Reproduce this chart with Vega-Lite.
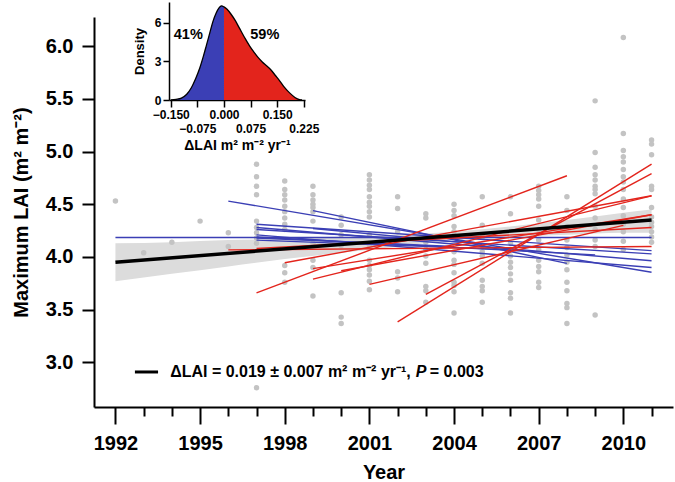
{
  "$schema": "https://vega.github.io/schema/vega-lite/v6.json",
  "width": 579,
  "height": 390,
  "autosize": {"type": "none"},
  "padding": {"left": 94, "top": 17, "right": 2, "bottom": 75},
  "background": "white",
  "config": {
    "view": {"stroke": null},
    "font": "Liberation Sans",
    "axis": {"grid": false, "domainColor": "black", "tickColor": "black", "labelColor": "black", "titleColor": "black", "labelFont": "Liberation Sans", "titleFont": "Liberation Sans", "labelFontWeight": "bold", "titleFontWeight": "bold", "labelFlush": false, "labelOverlap": false, "labelBound": false}
  },
  "datasets": {
    "pts": [
      {"year": 1992, "lai": 4.53},
      {"year": 1993, "lai": 4.04},
      {"year": 1994, "lai": 4.14},
      {"year": 1995, "lai": 4.34},
      {"year": 1996, "lai": 4.23}, {"year": 1996, "lai": 4.10},
      {"year": 1997, "lai": 4.88}, {"year": 1997, "lai": 4.76}, {"year": 1997, "lai": 4.67}, {"year": 1997, "lai": 4.59}, {"year": 1997, "lai": 4.34}, {"year": 1997, "lai": 4.28}, {"year": 1997, "lai": 4.23}, {"year": 1997, "lai": 4.18}, {"year": 1997, "lai": 4.13}, {"year": 1997, "lai": 2.76},
      {"year": 1998, "lai": 4.72}, {"year": 1998, "lai": 4.64}, {"year": 1998, "lai": 4.59}, {"year": 1998, "lai": 4.54}, {"year": 1998, "lai": 4.48}, {"year": 1998, "lai": 4.43}, {"year": 1998, "lai": 4.37}, {"year": 1998, "lai": 4.31}, {"year": 1998, "lai": 4.26}, {"year": 1998, "lai": 3.92}, {"year": 1998, "lai": 3.85}, {"year": 1998, "lai": 3.76},
      {"year": 1999, "lai": 4.67}, {"year": 1999, "lai": 4.59}, {"year": 1999, "lai": 4.54}, {"year": 1999, "lai": 4.50}, {"year": 1999, "lai": 4.47}, {"year": 1999, "lai": 4.43}, {"year": 1999, "lai": 4.34}, {"year": 1999, "lai": 4.13}, {"year": 1999, "lai": 3.97}, {"year": 1999, "lai": 3.90}, {"year": 1999, "lai": 3.63},
      {"year": 2000, "lai": 4.38}, {"year": 2000, "lai": 4.30}, {"year": 2000, "lai": 4.21}, {"year": 2000, "lai": 4.11}, {"year": 2000, "lai": 3.66}, {"year": 2000, "lai": 3.43}, {"year": 2000, "lai": 3.37},
      {"year": 2001, "lai": 4.78}, {"year": 2001, "lai": 4.73}, {"year": 2001, "lai": 4.68}, {"year": 2001, "lai": 4.64}, {"year": 2001, "lai": 4.57}, {"year": 2001, "lai": 4.52}, {"year": 2001, "lai": 4.48}, {"year": 2001, "lai": 4.43}, {"year": 2001, "lai": 4.38}, {"year": 2001, "lai": 4.21}, {"year": 2001, "lai": 4.11}, {"year": 2001, "lai": 3.97}, {"year": 2001, "lai": 3.92}, {"year": 2001, "lai": 3.88}, {"year": 2001, "lai": 3.83}, {"year": 2001, "lai": 3.77}, {"year": 2001, "lai": 3.69},
      {"year": 2002, "lai": 4.57}, {"year": 2002, "lai": 4.46}, {"year": 2002, "lai": 4.24}, {"year": 2002, "lai": 4.16}, {"year": 2002, "lai": 3.86}, {"year": 2002, "lai": 3.80}, {"year": 2002, "lai": 3.67},
      {"year": 2003, "lai": 4.41}, {"year": 2003, "lai": 4.37}, {"year": 2003, "lai": 4.14}, {"year": 2003, "lai": 4.07}, {"year": 2003, "lai": 4.01}, {"year": 2003, "lai": 3.94}, {"year": 2003, "lai": 3.72}, {"year": 2003, "lai": 3.68}, {"year": 2003, "lai": 3.57},
      {"year": 2004, "lai": 4.50}, {"year": 2004, "lai": 4.44}, {"year": 2004, "lai": 4.39}, {"year": 2004, "lai": 4.29}, {"year": 2004, "lai": 4.24}, {"year": 2004, "lai": 4.05}, {"year": 2004, "lai": 3.97}, {"year": 2004, "lai": 3.93}, {"year": 2004, "lai": 3.85}, {"year": 2004, "lai": 3.76}, {"year": 2004, "lai": 3.73}, {"year": 2004, "lai": 3.67}, {"year": 2004, "lai": 3.47},
      {"year": 2005, "lai": 4.57}, {"year": 2005, "lai": 4.30}, {"year": 2005, "lai": 4.19}, {"year": 2005, "lai": 4.11}, {"year": 2005, "lai": 4.05}, {"year": 2005, "lai": 4.01}, {"year": 2005, "lai": 3.94}, {"year": 2005, "lai": 3.78}, {"year": 2005, "lai": 3.72}, {"year": 2005, "lai": 3.68}, {"year": 2005, "lai": 3.57},
      {"year": 2006, "lai": 4.57}, {"year": 2006, "lai": 4.41}, {"year": 2006, "lai": 4.13}, {"year": 2006, "lai": 4.07}, {"year": 2006, "lai": 4.01}, {"year": 2006, "lai": 3.95}, {"year": 2006, "lai": 3.90}, {"year": 2006, "lai": 3.84}, {"year": 2006, "lai": 3.78}, {"year": 2006, "lai": 3.66}, {"year": 2006, "lai": 3.61}, {"year": 2006, "lai": 3.47},
      {"year": 2007, "lai": 4.67}, {"year": 2007, "lai": 4.63}, {"year": 2007, "lai": 4.59}, {"year": 2007, "lai": 4.55}, {"year": 2007, "lai": 4.48}, {"year": 2007, "lai": 4.35}, {"year": 2007, "lai": 4.26}, {"year": 2007, "lai": 4.16}, {"year": 2007, "lai": 4.07}, {"year": 2007, "lai": 3.97}, {"year": 2007, "lai": 3.91}, {"year": 2007, "lai": 3.86}, {"year": 2007, "lai": 3.76}, {"year": 2007, "lai": 3.71},
      {"year": 2008, "lai": 4.57}, {"year": 2008, "lai": 4.44}, {"year": 2008, "lai": 4.29}, {"year": 2008, "lai": 4.16}, {"year": 2008, "lai": 4.09}, {"year": 2008, "lai": 4.02}, {"year": 2008, "lai": 3.95}, {"year": 2008, "lai": 3.88}, {"year": 2008, "lai": 3.76}, {"year": 2008, "lai": 3.68}, {"year": 2008, "lai": 3.56}, {"year": 2008, "lai": 3.52}, {"year": 2008, "lai": 3.37},
      {"year": 2009, "lai": 5.48}, {"year": 2009, "lai": 4.99}, {"year": 2009, "lai": 4.85}, {"year": 2009, "lai": 4.78}, {"year": 2009, "lai": 4.73}, {"year": 2009, "lai": 4.67}, {"year": 2009, "lai": 4.64}, {"year": 2009, "lai": 4.60}, {"year": 2009, "lai": 4.48}, {"year": 2009, "lai": 4.37}, {"year": 2009, "lai": 4.26}, {"year": 2009, "lai": 4.16}, {"year": 2009, "lai": 4.10}, {"year": 2009, "lai": 3.45},
      {"year": 2010, "lai": 6.08}, {"year": 2010, "lai": 5.17}, {"year": 2010, "lai": 5.01}, {"year": 2010, "lai": 4.95}, {"year": 2010, "lai": 4.90}, {"year": 2010, "lai": 4.83}, {"year": 2010, "lai": 4.76}, {"year": 2010, "lai": 4.71}, {"year": 2010, "lai": 4.64}, {"year": 2010, "lai": 4.55}, {"year": 2010, "lai": 4.47}, {"year": 2010, "lai": 4.39}, {"year": 2010, "lai": 4.31}, {"year": 2010, "lai": 4.24}, {"year": 2010, "lai": 4.15}, {"year": 2010, "lai": 4.07},
      {"year": 2011, "lai": 5.11}, {"year": 2011, "lai": 5.07}, {"year": 2011, "lai": 4.97}, {"year": 2011, "lai": 4.67}, {"year": 2011, "lai": 4.64}, {"year": 2011, "lai": 4.47}, {"year": 2011, "lai": 4.38}, {"year": 2011, "lai": 4.33}, {"year": 2011, "lai": 4.29}, {"year": 2011, "lai": 4.24}, {"year": 2011, "lai": 4.19}, {"year": 2011, "lai": 4.14}
    ],
    "sites": [
      {"x0": 1992, "y0": 4.185, "x1": 2011, "y1": 4.185, "trend": "neg"},
      {"x0": 1996, "y0": 4.53, "x1": 2011, "y1": 3.855, "trend": "neg"},
      {"x0": 1997, "y0": 4.31, "x1": 2011, "y1": 4.06, "trend": "neg"},
      {"x0": 1997, "y0": 4.28, "x1": 2011, "y1": 3.965, "trend": "neg"},
      {"x0": 1997, "y0": 4.26, "x1": 2011, "y1": 4.03, "trend": "neg"},
      {"x0": 1997, "y0": 4.21, "x1": 2011, "y1": 3.90, "trend": "neg"},
      {"x0": 1997, "y0": 4.19, "x1": 2009, "y1": 4.02, "trend": "neg"},
      {"x0": 1997, "y0": 4.18, "x1": 2004, "y1": 4.10, "trend": "neg"},
      {"x0": 1997, "y0": 4.16, "x1": 2006, "y1": 4.07, "trend": "neg"},
      {"x0": 1999, "y0": 4.44, "x1": 2008, "y1": 3.94, "trend": "neg"},
      {"x0": 1999, "y0": 4.27, "x1": 2005, "y1": 4.12, "trend": "neg"},
      {"x0": 1996, "y0": 4.067, "x1": 2011, "y1": 4.10, "trend": "pos"},
      {"x0": 1997, "y0": 3.66, "x1": 2008, "y1": 4.77, "trend": "pos"},
      {"x0": 1997, "y0": 4.08, "x1": 2011, "y1": 4.28, "trend": "pos"},
      {"x0": 1998, "y0": 3.946, "x1": 2011, "y1": 4.58, "trend": "pos"},
      {"x0": 1999, "y0": 3.89, "x1": 2011, "y1": 4.40, "trend": "pos"},
      {"x0": 1999, "y0": 3.79, "x1": 2011, "y1": 4.58, "trend": "pos"},
      {"x0": 2000, "y0": 3.87, "x1": 2011, "y1": 4.40, "trend": "pos"},
      {"x0": 2001, "y0": 3.74, "x1": 2010, "y1": 4.30, "trend": "pos"},
      {"x0": 2002, "y0": 3.385, "x1": 2011, "y1": 4.88, "trend": "pos"},
      {"x0": 2003, "y0": 3.646, "x1": 2011, "y1": 4.79, "trend": "pos"}
    ],
    "band": [
      {"year": 1992, "lo": 3.77, "hi": 4.13},
      {"year": 1994, "lo": 3.84, "hi": 4.14},
      {"year": 1996, "lo": 3.91, "hi": 4.16},
      {"year": 1998, "lo": 3.98, "hi": 4.17},
      {"year": 2000, "lo": 4.04, "hi": 4.19},
      {"year": 2002, "lo": 4.10, "hi": 4.21},
      {"year": 2004, "lo": 4.16, "hi": 4.24},
      {"year": 2006, "lo": 4.19, "hi": 4.29},
      {"year": 2008, "lo": 4.21, "hi": 4.35},
      {"year": 2010, "lo": 4.23, "hi": 4.42},
      {"year": 2011, "lo": 4.23, "hi": 4.45}
    ],
    "fit": [{"x0": 1992, "y0": 3.95, "x1": 2011, "y1": 4.35}],
    "legline": [{"x0": 1992.69, "y0": 2.91, "x1": 1993.51, "y1": 2.91}],
    "legtext": [
      {"x": 1993.94, "y": 2.91, "t": "ΔLAI = 0.019 ± 0.007 m² m⁻² yr⁻¹,", "it": "n"},
      {"x": 2002.64, "y": 2.91, "t": "P", "it": "i"},
      {"x": 2003.14, "y": 2.91, "t": "= 0.003", "it": "n"}
    ],
    "dens": [
      {"x": -0.150, "d": 0.00, "side": "L"},
      {"x": -0.135, "d": 0.05, "side": "L"},
      {"x": -0.120, "d": 0.15, "side": "L"},
      {"x": -0.105, "d": 0.45, "side": "L"},
      {"x": -0.092, "d": 0.95, "side": "L"},
      {"x": -0.080, "d": 1.65, "side": "L"},
      {"x": -0.068, "d": 2.50, "side": "L"},
      {"x": -0.058, "d": 3.40, "side": "L"},
      {"x": -0.049, "d": 4.30, "side": "L"},
      {"x": -0.040, "d": 5.20, "side": "L"},
      {"x": -0.031, "d": 6.10, "side": "L"},
      {"x": -0.022, "d": 6.75, "side": "L"},
      {"x": -0.014, "d": 7.15, "side": "L"},
      {"x": -0.007, "d": 7.30, "side": "L"},
      {"x": 0.000, "d": 7.22, "side": "L"},
      {"x": 0.000, "d": 7.22, "side": "R"},
      {"x": 0.008, "d": 7.05, "side": "R"},
      {"x": 0.020, "d": 6.65, "side": "R"},
      {"x": 0.032, "d": 6.15, "side": "R"},
      {"x": 0.044, "d": 5.55, "side": "R"},
      {"x": 0.058, "d": 4.85, "side": "R"},
      {"x": 0.072, "d": 4.20, "side": "R"},
      {"x": 0.085, "d": 3.70, "side": "R"},
      {"x": 0.096, "d": 3.30, "side": "R"},
      {"x": 0.108, "d": 2.95, "side": "R"},
      {"x": 0.120, "d": 2.65, "side": "R"},
      {"x": 0.132, "d": 2.35, "side": "R"},
      {"x": 0.145, "d": 1.90, "side": "R"},
      {"x": 0.158, "d": 1.45, "side": "R"},
      {"x": 0.170, "d": 1.00, "side": "R"},
      {"x": 0.185, "d": 0.55, "side": "R"},
      {"x": 0.200, "d": 0.20, "side": "R"},
      {"x": 0.213, "d": 0.03, "side": "R"},
      {"x": 0.220, "d": 0.00, "side": "R"}
    ],
    "pct": [
      {"x": -0.1006, "y": 5.04, "t": "41%"},
      {"x": 0.115, "y": 5.04, "t": "59%"}
    ]
  },
  "layer": [
    {
      "layer": [
        {
          "data": {"name": "band"},
          "mark": {"type": "area", "color": "#DCDCDC", "interpolate": "monotone"},
          "encoding": {
            "x": {"field": "year", "type": "quantitative",
              "scale": {"domain": [1991.24, 2011.76], "nice": false, "zero": false},
              "axis": {
                "title": "Year", "values": [1992,1993,1994,1995,1996,1997,1998,1999,2000,2001,2002,2003,2004,2005,2006,2007,2008,2009,2010,2011],
                "tickCount": 40,
                "format": "d", "labelOverlap": false,
                "labelExpr": "indexof([1992,1995,1998,2001,2004,2007,2010], datum.value) >= 0 ? datum.label : ''",
                "tickSize": {"condition": {"test": "indexof([1992,1995,1998,2001,2004,2007,2010], datum.value) >= 0", "value": 17}, "value": 9},
                "labelFontSize": 20, "labelPadding": 9, "titleFontSize": 20, "titlePadding": 9,
                "domainWidth": 2, "tickWidth": 2
              }
            },
            "y": {"field": "lo", "type": "quantitative",
              "scale": {"domain": [2.578, 6.275], "nice": false, "zero": false},
              "axis": {
                "title": "Maximum LAI (m² m⁻²)", "values": [3, 3.5, 4, 4.5, 5, 5.5, 6], "format": ".1f", "tickCount": 20,
                "labelFontSize": 20, "labelPadding": 9, "tickSize": 12, "titleFontSize": 20, "titlePadding": 14,
                "domainWidth": 2, "tickWidth": 2, "labelOverlap": false
              }
            },
            "y2": {"field": "hi"}
          }
        },
        {
          "data": {"name": "pts"},
          "mark": {"type": "circle", "size": 30, "color": "#C3C3C3", "opacity": 1},
          "encoding": {
            "x": {"field": "year", "type": "quantitative"},
            "y": {"field": "lai", "type": "quantitative"}
          }
        },
        {
          "data": {"name": "sites"},
          "mark": {"type": "rule", "strokeWidth": 1.4},
          "encoding": {
            "x": {"field": "x0", "type": "quantitative"},
            "x2": {"field": "x1"},
            "y": {"field": "y0", "type": "quantitative"},
            "y2": {"field": "y1"},
            "color": {"field": "trend", "type": "nominal", "scale": {"domain": ["neg", "pos"], "range": ["#3B3FB5", "#E3241C"]}, "legend": null}
          }
        },
        {
          "data": {"name": "fit"},
          "mark": {"type": "rule", "strokeWidth": 3.5, "color": "black"},
          "encoding": {
            "x": {"field": "x0", "type": "quantitative"},
            "x2": {"field": "x1"},
            "y": {"field": "y0", "type": "quantitative"},
            "y2": {"field": "y1"}
          }
        },
        {
          "data": {"name": "legline"},
          "mark": {"type": "rule", "strokeWidth": 3, "color": "black"},
          "encoding": {
            "x": {"field": "x0", "type": "quantitative"},
            "x2": {"field": "x1"},
            "y": {"field": "y0", "type": "quantitative"},
            "y2": {"field": "y1"}
          }
        },
        {
          "data": {"name": "legtext"},
          "transform": [{"filter": "datum.it === 'n'"}],
          "mark": {"type": "text", "align": "left", "baseline": "middle", "fontSize": 16, "fontWeight": "bold", "font": "Liberation Sans", "color": "black"},
          "encoding": {
            "x": {"field": "x", "type": "quantitative"},
            "y": {"field": "y", "type": "quantitative"},
            "text": {"field": "t"}
          }
        },
        {
          "data": {"name": "legtext"},
          "transform": [{"filter": "datum.it === 'i'"}],
          "mark": {"type": "text", "align": "left", "baseline": "middle", "fontSize": 16, "fontWeight": "bold", "fontStyle": "italic", "font": "Liberation Sans", "color": "black"},
          "encoding": {
            "x": {"field": "x", "type": "quantitative"},
            "y": {"field": "y", "type": "quantitative"},
            "text": {"field": "t"}
          }
        }
      ]
    },
    {
      "layer": [
        {
          "data": {"name": "dens"},
          "mark": {"type": "area", "interpolate": "monotone", "opacity": 1},
          "encoding": {
            "x": {"field": "x", "type": "quantitative",
              "scale": {"domain": [-0.155, 0.2284], "range": [75, 211], "nice": false, "zero": false},
              "axis": {
                "orient": "bottom", "offset": -307, "title": "ΔLAI m² m⁻² yr⁻¹",
                "values": [-0.15, -0.075, 0, 0.075, 0.15, 0.225], "format": ".3f", "labelOverlap": false, "tickCount": 20,
                "labelFontSize": 12, "tickSize": 7, "tickWidth": 1.5, "domainWidth": 1.5,
                "labelPadding": {"condition": {"test": "(abs(datum.value) > 0.07 && abs(datum.value) < 0.08) || datum.value > 0.2", "value": 16}, "value": 2},
                "titleFontSize": 14, "titlePadding": 4
              }
            },
            "y": {"field": "d", "type": "quantitative", "stack": null,
              "scale": {"domain": [0, 7.6], "range": [83, -15], "nice": false, "zero": true},
              "axis": {
                "orient": "left", "offset": -75, "title": "Density", "values": [0, 3, 6], "tickCount": 20, "format": "d",
                "labelFontSize": 12, "tickSize": 6, "tickWidth": 1.5, "domainWidth": 1.5, "labelPadding": 2,
                "titleFontSize": 13, "titlePadding": 8, "labelOverlap": false
              }
            },
            "color": {"field": "side", "type": "nominal", "scale": {"domain": ["L", "R"], "range": ["#3E44B2", "#E2281D"]}, "legend": null}
          }
        },
        {
          "data": {"name": "dens"},
          "mark": {"type": "line", "interpolate": "monotone", "color": "black", "strokeWidth": 1.3},
          "encoding": {
            "x": {"field": "x", "type": "quantitative"},
            "y": {"field": "d", "type": "quantitative"}
          }
        },
        {
          "data": {"name": "pct"},
          "mark": {"type": "text", "align": "center", "baseline": "middle", "fontSize": 14.5, "fontWeight": "bold", "font": "Liberation Sans", "color": "black"},
          "encoding": {
            "x": {"field": "x", "type": "quantitative"},
            "y": {"field": "y", "type": "quantitative"},
            "text": {"field": "t"}
          }
        }
      ]
    }
  ],
  "resolve": {"scale": {"x": "independent", "y": "independent"}, "axis": {"x": "independent", "y": "independent"}}
}
